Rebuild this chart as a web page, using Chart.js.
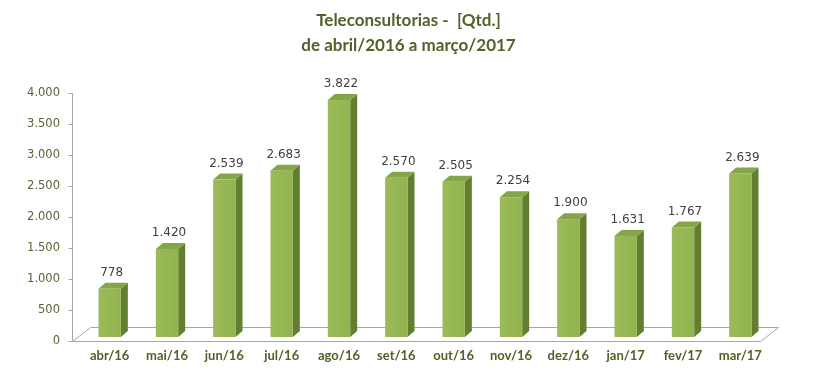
<!DOCTYPE html>
<html>
<head>
<meta charset="utf-8">
<script src="https://cdn.jsdelivr.net/npm/chart.js@4/dist/chart.umd.min.js"></script>
<style>
  html, body { margin: 0; padding: 0; background: #fff; }
  #wrap { width: 813px; height: 379px; }
</style>
</head>
<body>
<div id="wrap"><canvas id="chart" width="813" height="379"></canvas></div>
<script>
// dados
const meses = ['abr/16', 'mai/16', 'jun/16', 'jul/16', 'ago/16', 'set/16', 'out/16', 'nov/16', 'dez/16', 'jan/17', 'fev/17', 'mar/17'];
const qtd = [778, 1420, 2539, 2683, 3822, 2570, 2505, 2254, 1900, 1631, 1767, 2639];
const titulo = ['Teleconsultorias -  [Qtd.]', 'de abril/2016 a março/2017'];
const yMax = 4000;
const yStep = 500;

const depthX = 7, depthY = 6;     // profundidade das barras
const floorX = 9, floorY = 7;     // meia profundidade do "piso"
const liftY = 4;

function fmt(v) {
  return v.toLocaleString('pt-BR');
}

// título desenhado à mão (centrado no gráfico inteiro)
const tituloPlugin = {
  id: 'tituloPlugin',
  afterDraw(chart) {
    const ctx = chart.ctx;
    const cx = chart.width / 2 + 2;
    ctx.save();
    ctx.fillStyle = '#4f6228';
    ctx.font = 'bold 17px Lato';
    ctx.textAlign = 'center';
    ctx.textBaseline = 'middle';
    titulo.forEach((t, i) => ctx.fillText(t, cx, 21 + i * 25));
    ctx.restore();
  }
};

const bar3d = {
  id: 'bar3d',
  beforeDatasetsDraw(chart) {
    const ctx = chart.ctx;
    const a = chart.chartArea;
    const y0 = chart.scales.y.getPixelForValue(0);
    ctx.save();
    // piso
    ctx.strokeStyle = '#a6a6a6';
    ctx.lineWidth = 1;
    ctx.beginPath();
    ctx.moveTo(a.left - floorX + 0.5, y0 + 0.5);
    ctx.lineTo(a.right - floorX + 0.5, y0 + 0.5);
    ctx.lineTo(a.right + floorX + 0.5, y0 - 2 * floorY + 0.5);
    ctx.lineTo(a.left + floorX + 0.5, y0 - 2 * floorY + 0.5);
    ctx.closePath();
    ctx.stroke();
    // eixo y
    const ax = Math.round(a.left - floorX) + 0.5;
    ctx.beginPath();
    ctx.moveTo(ax, chart.scales.y.getPixelForValue(yMax));
    ctx.lineTo(ax, y0);
    chart.scales.y.ticks.forEach(t => {
      const ty = Math.round(chart.scales.y.getPixelForValue(t.value)) + 0.5;
      ctx.moveTo(ax - 4, ty);
      ctx.lineTo(ax, ty);
    });
    ctx.stroke();
    ctx.restore();
  },
  afterDatasetsDraw(chart) {
    const ctx = chart.ctx;
    const meta = chart.getDatasetMeta(0);
    ctx.save();
    meta.data.forEach((el, i) => {
      const w = el.width;
      const l = el.x - w / 2, r = el.x + w / 2;
      const top = el.y - liftY, bot = el.base - liftY;
      // lado
      ctx.fillStyle = '#627f31';
      ctx.beginPath();
      ctx.moveTo(r, bot);
      ctx.lineTo(r + depthX, bot - depthY);
      ctx.lineTo(r + depthX, top - depthY);
      ctx.lineTo(r, top);
      ctx.closePath();
      ctx.fill();
      // topo
      ctx.fillStyle = '#86a548';
      ctx.beginPath();
      ctx.moveTo(l, top);
      ctx.lineTo(l + depthX, top - depthY);
      ctx.lineTo(r + depthX, top - depthY);
      ctx.lineTo(r, top);
      ctx.closePath();
      ctx.fill();
      // frente
      const g = ctx.createLinearGradient(l, 0, r, 0);
      g.addColorStop(0, '#9bbb59');
      g.addColorStop(1, '#93b351');
      ctx.fillStyle = g;
      ctx.fillRect(l, top, w, bot - top);
      // rótulo
      ctx.fillStyle = '#404040';
      ctx.font = '12px "DejaVu Sans"';
      ctx.textAlign = 'center';
      ctx.textBaseline = 'bottom';
      ctx.fillText(fmt(qtd[i]), el.x + 2, top - depthY - 4);
    });
    ctx.restore();
  }
};

new Chart(document.getElementById('chart'), {
  type: 'bar',
  data: {
    labels: meses,
    datasets: [{
      data: qtd,
      backgroundColor: 'rgba(0,0,0,0)',
      barPercentage: 0.78,
      categoryPercentage: 0.5
    }]
  },
  options: {
    responsive: false,
    animation: false,
    events: [],
    layout: { padding: { top: 93, right: 44, bottom: 0, left: 0 } },
    plugins: {
      legend: { display: false },
      tooltip: { enabled: false },
      title: { display: false }
    },
    scales: {
      x: {
        grid: { display: false, drawTicks: false },
        border: { display: false },
        ticks: {
          color: '#4f6228',
          font: { family: 'Lato', size: 13, weight: 'bold' },
          padding: 7,
          maxRotation: 0,
          autoSkip: false
        },
        afterFit(scale) { scale.height = 38; }
      },
      y: {
        min: 0,
        max: yMax,
        grid: { display: false, drawTicks: false },
        border: { display: false },
        ticks: {
          stepSize: yStep,
          color: '#5b6138',
          font: { family: 'DejaVu Sans', size: 11.5 },
          padding: 21,
          callback: v => fmt(v)
        },
        afterFit(scale) { scale.width = 81; }
      }
    }
  },
  plugins: [bar3d, tituloPlugin]
});
</script>
</body>
</html>
